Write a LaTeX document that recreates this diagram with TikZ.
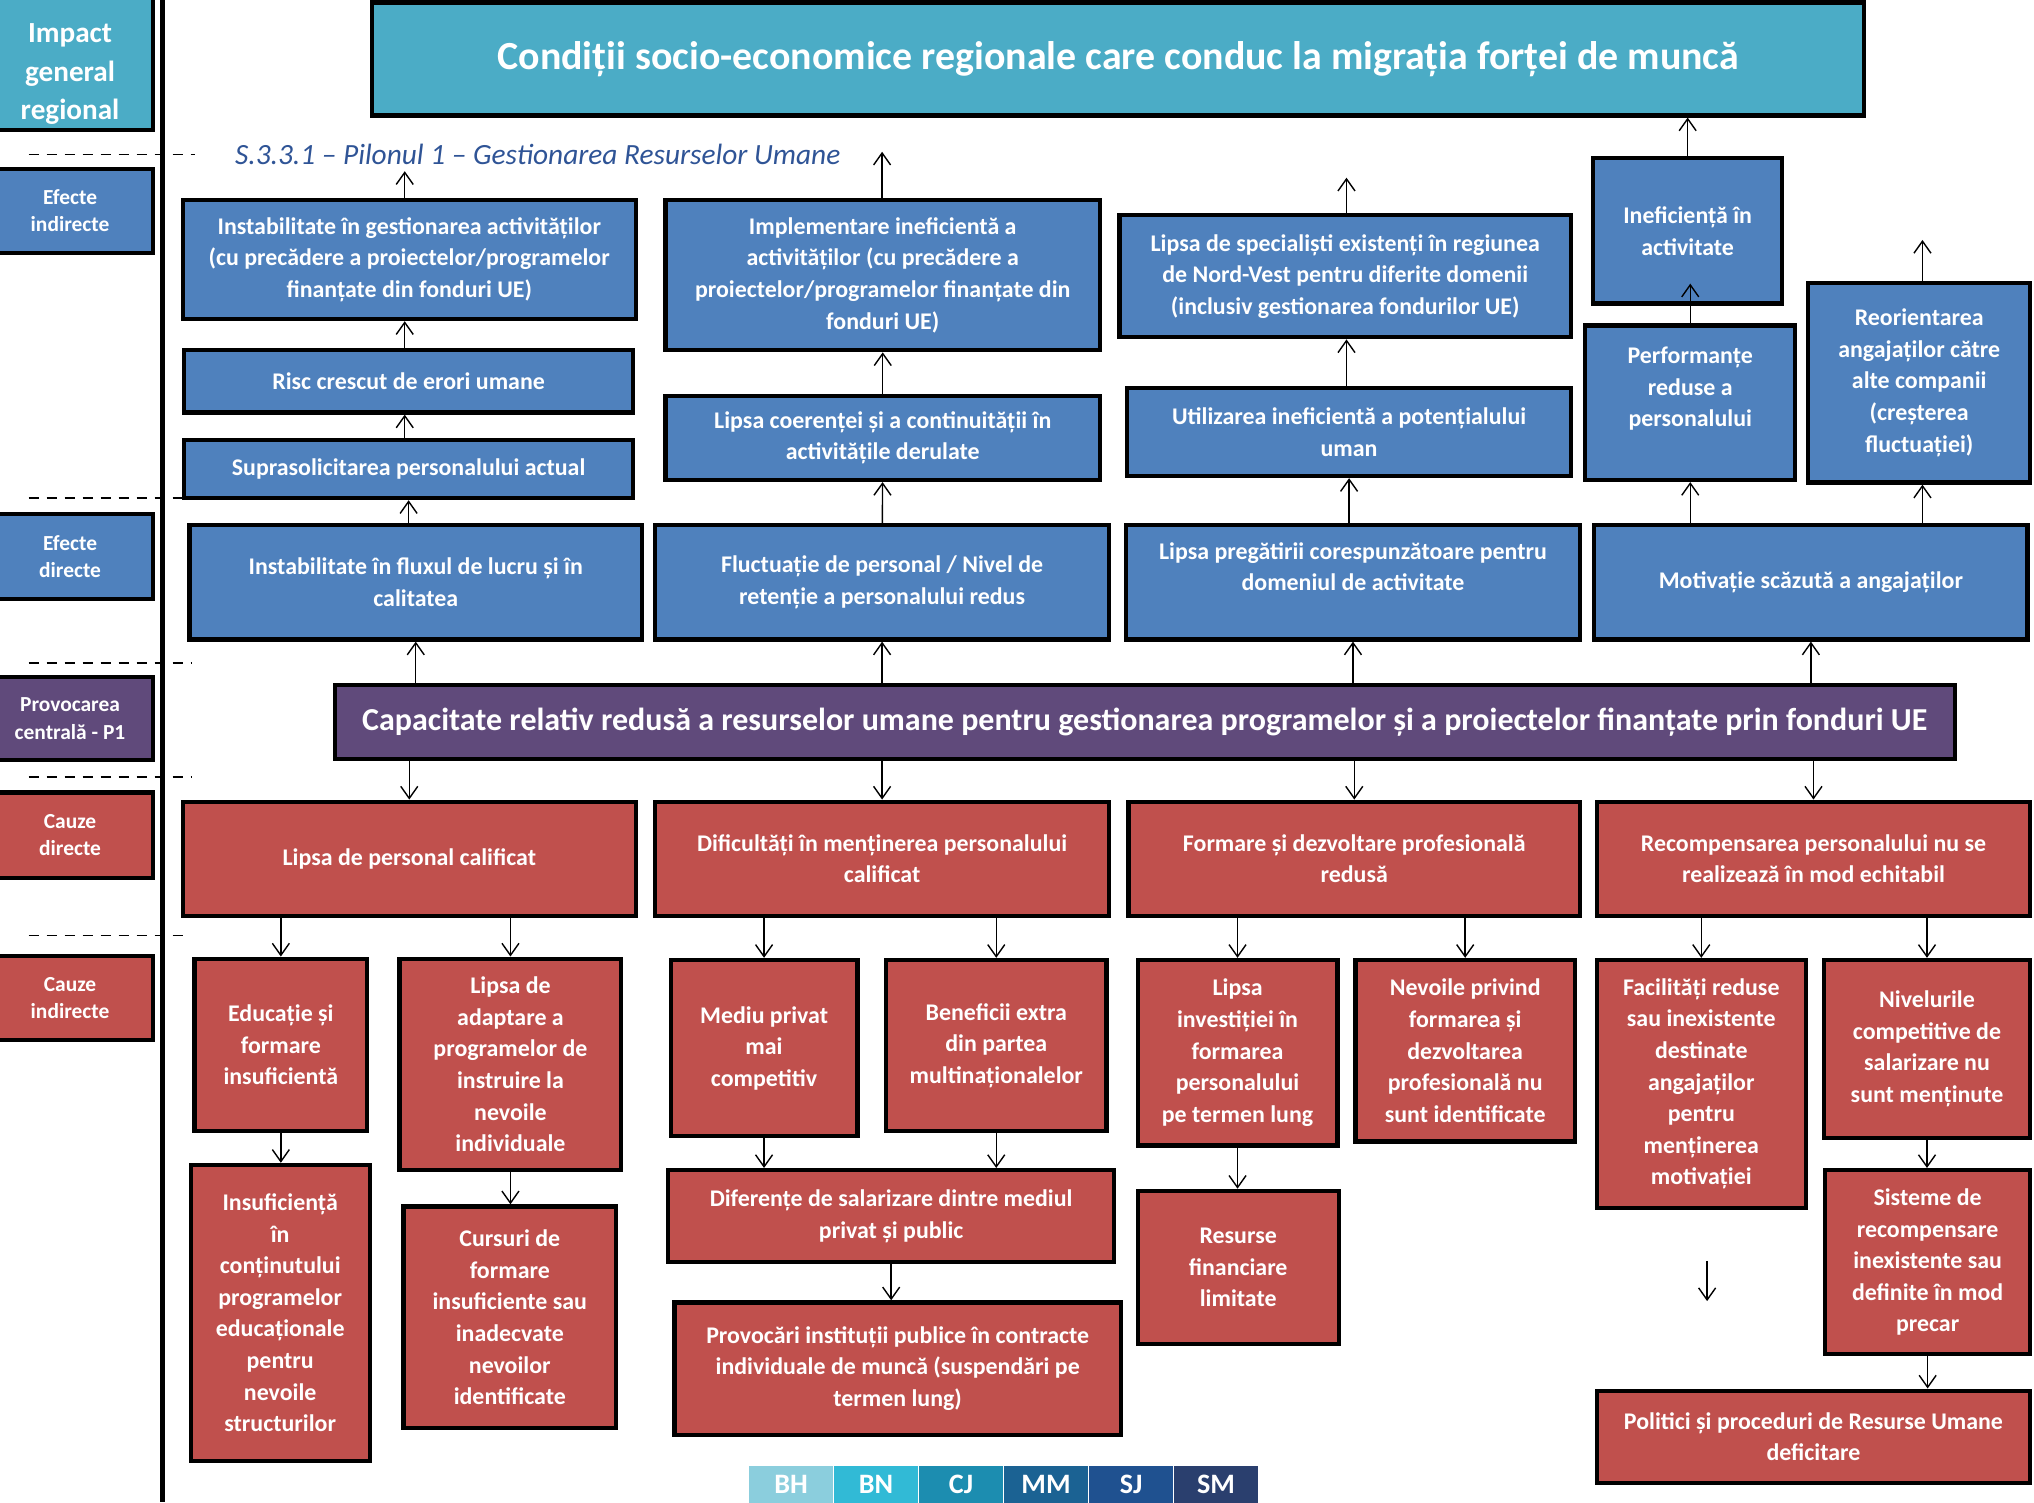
\documentclass[tikz,border=0pt]{standalone}
\usepackage{fontspec}
\setmainfont{Carlito}
\usepackage{tikz}
\usetikzlibrary{arrows.meta, positioning}

\definecolor{impactteal}{HTML}{4BACC6}
\definecolor{effblue}{HTML}{4F81BD}
\definecolor{corepurple}{HTML}{604A7B}
\definecolor{causered}{HTML}{C0504D}
\definecolor{pilonblue}{HTML}{2F5496}
\definecolor{bhcol}{HTML}{8BCEDD}
\definecolor{bncol}{HTML}{31BAD6}
\definecolor{cjcol}{HTML}{1C8DB0}
\definecolor{mmcol}{HTML}{1B6293}
\definecolor{sjcol}{HTML}{1F5190}
\definecolor{smcol}{HTML}{2A3F6E}

\begin{document}
\begin{tikzpicture}[
    x=0.02594cm, y=-0.02594cm,
    spanning/.style args={#1/#2/#3/#4}{at={({(#1+#3)/2},{(#2+#4)/2})},
                 minimum width={(#3-#1)*0.02594cm}, minimum height={(#4-#2)*0.02594cm}},
    cell/.style={rectangle, draw=black, line width=2.4pt, inner sep=0pt, align=center, text=white,
                 font=\bfseries\fontsize{13.6}{18}\selectfont},
    effect/.style={cell, fill=effblue},
    cause/.style={cell, fill=causered},
    level/.style={cell, font=\bfseries\fontsize{12.2}{15.5}\selectfont},
    arr/.style={-{Straight Barb[length=2.4mm, width=3.4mm]}, line width=0.8pt},
    sep/.style={line width=0.8pt, dash pattern=on 2mm off 1.6mm},
    leg/.style={rectangle, inner sep=0pt, minimum width=65*0.02594cm, minimum height=28*0.02594cm,
                text=white, font=\bfseries\fontsize{16}{16}\selectfont},
]
\clip (0,0) rectangle (1568,1158);

% left column
\node[level, fill=impactteal, font=\bfseries\fontsize{16.6}{22}\selectfont,
      spanning=-10/-2/118/100] (impact) {\rule{0pt}{0.8cm}Impact\\general\\regional};
\node[level, fill=effblue, spanning=-10/130/118/195] (efind) {Efecte\\indirecte};
\node[level, fill=effblue, spanning=-10/396/118/462] (efdir) {Efecte\\directe};
\node[level, fill=corepurple, spanning=-10/522/118/586] (prov) {Provocarea\\centrală - P1};
\node[level, fill=causered, spanning=-10/611/118/677] (cdir) {Cauze\\directe};
\node[level, fill=causered, spanning=-10/737/118/802] (cind) {Cauze\\indirecte};
\draw[line width=3pt] (125,0) -- (125,1158);
\foreach \yy/\xx in {119/150, 384/140, 511/148, 599/148, 721/146}
    \draw[sep] (22,\yy) -- (\xx,\yy);

% top
\node[cell, fill=impactteal, font=\bfseries\fontsize{22.7}{26}\selectfont,
      spanning=287/2/1437/89] (title) {Condiții socio-economice regionale care conduc la migrația forței de muncă};
\node[anchor=west, inner sep=0pt, text=pilonblue, font=\itshape\fontsize{16.7}{20}\selectfont]
      (pilon) at (181,119) {S.3.3.1 – Pilonul 1 – Gestionarea Resurselor Umane};

% effects
\node[effect, spanning=141/154/490/246] (A1) {Instabilitate în gestionarea activităților\\(cu precădere a proiectelor/programelor\\finanțate din fonduri UE)};
\node[effect, spanning=142/270/488/318] (A2) {Risc crescut de erori umane};
\node[effect, spanning=142/339/488/384] (A3) {Suprasolicitarea personalului actual};
\node[effect, spanning=146/405/495/493] (A4) {Instabilitate în fluxul de lucru și în\\calitatea};

\node[effect, spanning=513/154/848/270] (B1) {Implementare ineficientă a\\activităților (cu precădere a\\proiectelor/programelor finanțate din\\fonduri UE)};
\node[effect, spanning=513/305/848/370] (B2) {Lipsa coerenței și a continuității în\\activitățile derulate};
\node[effect, spanning=505/405/855/493] (B3) {Fluctuație de personal / Nivel de\\retenție a personalului redus};

\node[effect, spanning=863/166/1211/260] (C1) {Lipsa de specialiști existenți în regiunea\\de Nord-Vest pentru diferite domenii\\(inclusiv gestionarea fondurilor UE)};
\node[effect, spanning=869/299/1211/367] (C2) {Utilizarea ineficientă a potențialului\\uman};
\node[effect, spanning=868/405/1218/493] (C3) {Lipsa pregătirii corespunzătoare pentru\\domeniul de activitate\\\mbox{}};

\node[effect, spanning=1228/122/1374/234] (D1) {Ineficiență în\\activitate};
\node[effect, spanning=1222/251/1384/370] (D2) {Performanțe\\reduse a\\personalului\\\mbox{}};
\node[effect, spanning=1394/218/1565/372] (E1) {Reorientarea\\angajaților către\\alte companii\\(creșterea\\fluctuației)};
\node[effect, spanning=1229/405/1563/493] (motiv) {Motivație scăzută a angajaților};

% central problem
\node[cell, fill=corepurple, font=\bfseries\fontsize{18.2}{20}\selectfont,
      spanning=258/528/1507/585] (core) {Capacitate relativ redusă a resurselor umane pentru gestionarea programelor și a proiectelor finanțate prin fonduri UE};

% direct causes
\node[cause, spanning=141/618/490/706] (R1) {Lipsa de personal calificat};
\node[cause, spanning=505/618/855/706] (R2) {Dificultăți în menținerea personalului\\calificat};
\node[cause, spanning=870/618/1218/706] (R3) {Formare și dezvoltare profesională\\redusă};
\node[cause, spanning=1231/618/1565/706] (R4) {Recompensarea personalului nu se\\realizează în mod echitabil};

% indirect causes
\node[cause, spanning=150/739/283/872] (S1) {Educație și\\formare\\insuficientă};
\node[cause, spanning=147/898/285/1126] (S2) {Insuficiență\\în\\conținutului\\programelor\\educaționale\\pentru\\nevoile\\structurilor};
\node[cause, spanning=308/739/479/902] (S3) {Lipsa de\\adaptare a\\programelor de\\instruire la\\nevoile\\individuale};
\node[cause, spanning=311/930/475/1101] (S4) {Cursuri de\\formare\\insuficiente sau\\inadecvate\\nevoilor\\identificate};

\node[cause, spanning=517/740/661/876] (T1) {Mediu privat\\mai\\competitiv};
\node[cause, spanning=683/740/853/872] (T2) {Beneficii extra\\din partea\\multinaționalelor};
\node[cause, spanning=515/902/859/973] (T3) {Diferențe de salarizare dintre mediul\\privat și public};
\node[cause, spanning=520/1004/864/1106] (T4) {Provocări instituții publice în contracte\\individuale de muncă (suspendări pe\\termen lung)};

\node[cause, spanning=877/740/1031/883] (U1) {Lipsa\\investiției în\\formarea\\personalului\\pe termen lung};
\node[cause, spanning=1045/740/1214/880] (U2) {Nevoile privind\\formarea și\\dezvoltarea\\profesională nu\\sunt identificate};
\node[cause, spanning=877/918/1032/1036] (U3) {Resurse\\financiare\\limitate};

\node[cause, spanning=1231/740/1392/931] (V1) {Facilități reduse\\sau inexistente\\destinate\\angajaților\\pentru\\menținerea\\motivației};
\node[cause, spanning=1406/740/1565/877] (V2) {Nivelurile\\competitive de\\salarizare nu\\sunt menținute};
\node[cause, spanning=1407/902/1565/1044] (V3) {Sisteme de\\recompensare\\inexistente sau\\definite în mod\\precar};
\node[cause, spanning=1231/1072/1565/1143] (V4) {Politici și proceduri de Resurse Umane\\deficitare};

% county strip
\node[leg, fill=bhcol, anchor=north west] (bh) at (577,1130) {BH};
\node[leg, fill=bncol, right=0pt of bh] (bn) {BN};
\node[leg, fill=cjcol, right=0pt of bn] (cj) {CJ};
\node[leg, fill=mmcol, right=0pt of cj] (mm) {MM};
\node[leg, fill=sjcol, right=0pt of mm] (sj) {SJ};
\node[leg, fill=smcol, right=0pt of sj] (sm) {SM};

% loose arrow ends
\coordinate (A1top) at (312,132);
\coordinate (B1top) at (680,117);
\coordinate (C1top) at (1038,137);
\coordinate (E1top) at (1482,185);
\coordinate (V1from) at (1316,972);
\coordinate (V1to) at (1316,1003);

% effects upwards
\draw[arr] (A1.north -| A1top) -- (A1top);
\draw[arr] (A2.north -| A1top) -- (A1.south -| A1top);
\draw[arr] (A3.north -| A1top) -- (A2.south -| A1top);
\draw[arr] (A4.north -| A3) -- (A3.south);
\draw[arr] (B1.north -| B1top) -- (B1top);
\draw[arr] (B2) -- (B1);
\draw[arr] (B3) -- (B2);
\draw[arr] (C1.north -| C1top) -- (C1top);
\draw[arr] (C2.north -| C1top) -- (C1.south -| C1top);
\draw[arr] (C3.north -| C2) -- (C2.south);
\draw[arr] (D1.north) -- (D1.north |- title.south);
\draw[arr, shorten >=-0.44cm] (D2.north) -- (D2.north |- D1.south);
\draw[arr] (E1.north -| E1top) -- (E1top);
\draw[arr] (motiv.north -| D2) -- (D2.south);
\draw[arr] (motiv.north -| E1top) -- (E1.south -| E1top);

% core to effects and causes
\foreach \n in {A4, B3, C3, motiv}
    \draw[arr] (core.north -| \n) -- (\n.south);
\foreach \n in {R1, R2, R3, R4}
    \draw[arr] (core.south -| \n) -- (\n.north);

% causes downwards
\draw[arr] (R1.south -| S1) -- (S1.north);
\draw[arr] (R1.south -| S3) -- (S3.north);
\draw[arr] (S1) -- (S1.south |- S2.north);
\draw[arr] (S3) -- (S3.south |- S4.north);
\draw[arr] (R2.south -| T1) -- (T1.north);
\draw[arr] (R2.south -| T2) -- (T2.north);
\draw[arr] (T1) -- (T1.south |- T3.north);
\draw[arr] (T2) -- (T2.south |- T3.north);
\draw[arr] (T3) -- (T3.south |- T4.north);
\draw[arr] (R3.south -| U1) -- (U1.north);
\draw[arr] (R3.south -| U2) -- (U2.north);
\draw[arr] (U1) -- (U1.south |- U3.north);
\draw[arr] (R4.south -| V1) -- (V1.north);
\draw[arr] (R4.south -| V2) -- (V2.north);
\draw[arr] (V2) -- (V2.south |- V3.north);
\draw[arr] (V3) -- (V3.south |- V4.north);
\draw[arr] (V1from) -- (V1to);
\end{tikzpicture}
\end{document}
